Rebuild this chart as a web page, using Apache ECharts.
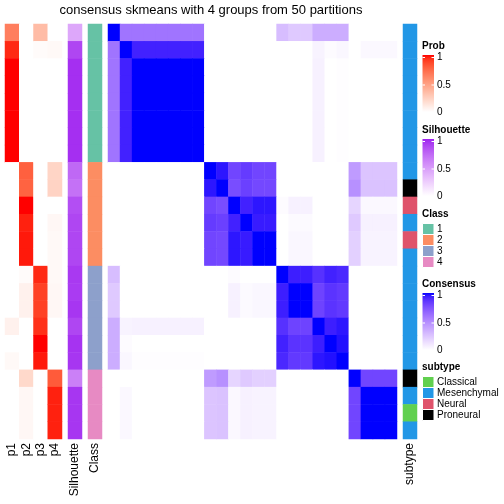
<!DOCTYPE html>
<html><head><meta charset="utf-8">
<script src="https://cdn.jsdelivr.net/npm/echarts@6/dist/echarts.min.js"></script>
<style>html,body{margin:0;padding:0;background:#fff}#c{width:504px;height:504px}</style>
</head><body><div id="c"></div>
<script>
const FONT = '"Liberation Sans", Arial, Helvetica, sans-serif';
const chartTitle = 'consensus skmeans with 4 groups from 50 partitions';

// ---- data ----
const probNames = ['p1', 'p2', 'p3', 'p4'];
const p1 = [0.65, 0.95, 1, 1, 1, 1, 1, 1, 0, 0, 0, 0, 0, 0, 0, 0, 0, 0.07, 0, 0.03, 0, 0, 0, 0];
const p2 = [0, 0, 0, 0, 0, 0, 0, 0, 0.78, 0.77, 1, 0.96, 0.97, 0.97, 0.02, 0.07, 0.07, 0, 0, 0, 0.2, 0.04, 0.04, 0.04];
const p3 = [0.35, 0.02, 0, 0, 0, 0, 0, 0, 0, 0, 0, 0, 0, 0, 0.95, 0.89, 0.89, 0.93, 1, 0.97, 0, 0, 0, 0];
const p4 = [0, 0.03, 0, 0, 0, 0, 0, 0, 0.22, 0.23, 0, 0.04, 0.03, 0.03, 0.03, 0.04, 0.04, 0, 0, 0, 0.8, 0.96, 0.96, 0.96];
const silhouette = [0.44, 0.88, 0.96, 0.96, 0.96, 0.96, 0.96, 0.96, 0.74, 0.7, 0.85, 0.88, 0.88, 0.88, 0.93, 0.92, 0.94, 0.88, 0.95, 0.94, 0.63, 0.94, 0.94, 0.94];
const classLevels = ['1', '2', '3', '4'];
const classes = [1, 1, 1, 1, 1, 1, 1, 1, 2, 2, 2, 2, 2, 2, 3, 3, 3, 3, 3, 3, 4, 4, 4, 4];
const subtypeLevels = ['Classical', 'Mesenchymal', 'Neural', 'Proneural'];
const subtype = ['Mesenchymal', 'Mesenchymal', 'Mesenchymal', 'Mesenchymal', 'Mesenchymal', 'Mesenchymal', 'Mesenchymal', 'Mesenchymal',
  'Mesenchymal', 'Proneural', 'Neural', 'Mesenchymal', 'Neural', 'Mesenchymal',
  'Mesenchymal', 'Mesenchymal', 'Mesenchymal', 'Mesenchymal', 'Mesenchymal', 'Mesenchymal',
  'Proneural', 'Mesenchymal', 'Classical', 'Mesenchymal'];
const consensus = [
  [1, .6, .6, .6, .6, .6, .6, .6, 0, 0, 0, 0, 0, 0, .28, .23, .23, .35, .35, .35, 0, 0, 0, 0],
  [.6, 1, .93, .93, .93, .93, .93, .93, 0, 0, 0, 0, 0, 0, 0, 0, 0, .05, .015, .035, 0, .03, .03, .03],
  [.6, .93, 1, 1, 1, 1, 1, 1, 0, 0, 0, 0, 0, 0, 0, 0, 0, .06, 0, .01, 0, 0, 0, 0],
  [.6, .93, 1, 1, 1, 1, 1, 1, 0, 0, 0, 0, 0, 0, 0, 0, 0, .06, 0, .01, 0, 0, 0, 0],
  [.6, .93, 1, 1, 1, 1, 1, 1, 0, 0, 0, 0, 0, 0, 0, 0, 0, .06, 0, .01, 0, 0, 0, 0],
  [.6, .93, 1, 1, 1, 1, 1, 1, 0, 0, 0, 0, 0, 0, 0, 0, 0, .06, 0, .01, 0, 0, 0, 0],
  [.6, .93, 1, 1, 1, 1, 1, 1, 0, 0, 0, 0, 0, 0, 0, 0, 0, .06, 0, .01, 0, 0, 0, 0],
  [.6, .93, 1, 1, 1, 1, 1, 1, 0, 0, 0, 0, 0, 0, 0, 0, 0, .06, 0, .01, 0, 0, 0, 0],
  [0, 0, 0, 0, 0, 0, 0, 0, 1, .96, .8, .84, .8, .8, 0, 0, 0, 0, 0, 0, .43, .25, .25, .25],
  [0, 0, 0, 0, 0, 0, 0, 0, .96, 1, .77, .82, .79, .79, 0, 0, 0, 0, 0, 0, .48, .26, .26, .26],
  [0, 0, 0, 0, 0, 0, 0, 0, .8, .77, 1, .93, .96, .96, .015, .06, .06, 0, 0, 0, .18, .03, .03, .03],
  [0, 0, 0, 0, 0, 0, 0, 0, .84, .82, .93, 1, .95, .95, 0, .02, .02, 0, 0, 0, .23, .06, .06, .06],
  [0, 0, 0, 0, 0, 0, 0, 0, .8, .79, .96, .95, 1, 1, 0, .035, .035, 0, 0, 0, .2, .05, .05, .05],
  [0, 0, 0, 0, 0, 0, 0, 0, .8, .79, .96, .95, 1, 1, 0, .035, .035, 0, 0, 0, .2, .05, .05, .05],
  [.28, 0, 0, 0, 0, 0, 0, 0, 0, 0, .015, 0, 0, 0, 1, .94, .94, .88, .93, .91, 0, 0, 0, 0],
  [.23, 0, 0, 0, 0, 0, 0, 0, 0, 0, .06, .02, .035, .035, .94, 1, 1, .81, .87, .85, 0, 0, 0, 0],
  [.23, 0, 0, 0, 0, 0, 0, 0, 0, 0, .06, .02, .035, .035, .94, 1, 1, .81, .87, .85, 0, 0, 0, 0],
  [.35, .05, .06, .06, .06, .06, .06, .06, 0, 0, 0, 0, 0, 0, .88, .81, .81, 1, .94, .96, 0, 0, 0, 0],
  [.35, .015, 0, 0, 0, 0, 0, 0, 0, 0, 0, 0, 0, 0, .93, .87, .87, .94, 1, .97, 0, 0, 0, 0],
  [.35, .035, .01, .01, .01, .01, .01, .01, 0, 0, 0, 0, 0, 0, .91, .85, .85, .96, .97, 1, 0, 0, 0, 0],
  [0, 0, 0, 0, 0, 0, 0, 0, .43, .48, .18, .23, .2, .2, 0, 0, 0, 0, 0, 0, 1, .8, .8, .8],
  [0, .03, 0, 0, 0, 0, 0, 0, .25, .26, .03, .06, .05, .05, 0, 0, 0, 0, 0, 0, .8, 1, 1, 1],
  [0, .03, 0, 0, 0, 0, 0, 0, .25, .26, .03, .06, .05, .05, 0, 0, 0, 0, 0, 0, .8, 1, 1, 1],
  [0, .03, 0, 0, 0, 0, 0, 0, .25, .26, .03, .06, .05, .05, 0, 0, 0, 0, 0, 0, .8, 1, 1, 1]
];
const legendTicks = ['1', '0.5', '0'];

// ---- colours (LAB interpolation like circlize::colorRamp2) ----
const classColors = ['#66C2A5', '#FC8D62', '#8DA0CB', '#E78AC3'];
const subtypeColors = ['#61D04F', '#2297E6', '#DF536B', '#000000'];
function hex2rgb(h) { h = h.replace('#', ''); return [0, 2, 4].map(i => parseInt(h.substr(i, 2), 16)); }
function lin(c) { c /= 255; return c <= 0.04045 ? c / 12.92 : Math.pow((c + 0.055) / 1.055, 2.4); }
function delin(c) { c = Math.max(0, Math.min(1, c)); c = c <= 0.0031308 ? 12.92 * c : 1.055 * Math.pow(c, 1 / 2.4) - 0.055; return Math.max(0, Math.min(255, Math.round(c * 255))); }
const Xn = 0.95047, Yn = 1, Zn = 1.08883;
function fl(t) { return t > 0.008856 ? Math.cbrt(t) : 7.787 * t + 16 / 116; }
function finv(t) { return t > 0.206893 ? t * t * t : (t - 16 / 116) / 7.787; }
function rgb2lab(rgb) {
  const [r, g, b] = rgb.map(lin);
  const X = (0.4124 * r + 0.3576 * g + 0.1805 * b) / Xn, Y = (0.2126 * r + 0.7152 * g + 0.0722 * b) / Yn, Z = (0.0193 * r + 0.1192 * g + 0.9505 * b) / Zn;
  const fx = fl(X), fy = fl(Y), fz = fl(Z);
  return [116 * fy - 16, 500 * (fx - fy), 200 * (fy - fz)];
}
function lab2rgb(lab) {
  const fy = (lab[0] + 16) / 116, fx = fy + lab[1] / 500, fz = fy - lab[2] / 200;
  const X = finv(fx) * Xn, Y = finv(fy) * Yn, Z = finv(fz) * Zn;
  const r = 3.2406 * X - 1.5372 * Y - 0.4986 * Z, g = -0.9689 * X + 1.8758 * Y + 0.0415 * Z, b = 0.0557 * X - 0.2040 * Y + 1.0570 * Z;
  return [r, g, b].map(delin);
}
function ramp(c0, c1, n) {
  const a = rgb2lab(hex2rgb(c0)), b = rgb2lab(hex2rgb(c1)), out = [];
  for (let i = 0; i < n; i++) {
    const t = i / (n - 1);
    out.push('rgb(' + lab2rgb(a.map((v, k) => v + (b[k] - v) * t)).join(',') + ')');
  }
  return out;
}
const probRamp = ramp('#FFFFFF', '#FF0000', 21);
const silRamp = ramp('#FFFFFF', '#A020F0', 21);
const consRamp = ramp('#FFFFFF', '#0000FF', 21);

// ---- build series data ----
const rows = consensus.map((_, i) => i);
const probCols = [p1, p2, p3, p4];
const probData = [];
probCols.forEach((col, j) => col.forEach((v, i) => probData.push([j, i, v])));
const silData = silhouette.map((v, i) => [0, i, v]);
const classData = classes.map((v, i) => [0, i, v]);
const consData = [];
consensus.forEach((row, i) => row.forEach((v, j) => consData.push([j, i, v])));
const subtypeData = subtype.map((s, i) => [0, i, subtypeLevels.indexOf(s)]);

const TOP = 24, H = 415;
const grids = [
  { left: 5, top: TOP, width: 57, height: H },
  { left: 68, top: TOP, width: 14, height: H },
  { left: 88, top: TOP, width: 14, height: H },
  { left: 108, top: TOP, width: 289, height: H },
  { left: 403, top: TOP, width: 14, height: H }
];
const xCats = [probNames, ['Silhouette'], ['Class'], rows.map(String), ['subtype']];
const labelStyle = { show: true, interval: 0, hideOverlap: false, rotate: 90, margin: 4, fontSize: 12, color: '#000', fontFamily: FONT };
const xAxes = xCats.map((cats, g) => ({
  type: 'category', gridIndex: g, data: cats, position: 'bottom',
  axisLine: { show: false }, axisTick: { show: false }, splitLine: { show: false },
  axisLabel: g === 3 ? { show: false } : labelStyle
}));
const yAxes = grids.map((_, g) => ({
  type: 'category', gridIndex: g, data: rows.map(String), inverse: true, show: false
}));
function hm(g, data) {
  return { type: 'heatmap', xAxisIndex: g, yAxisIndex: g, data: data, progressive: 0, animation: false,
    itemStyle: { borderWidth: 0 }, emphasis: { disabled: true } };
}

// ---- legends (drawn as graphics) ----
const LX = 422.5;
const gfx = [];
function txt(t, x, y, bold, size, align) {
  gfx.push({ type: 'text', silent: true, style: { text: t, x: x, y: y, fill: '#000',
    font: (bold ? 'bold ' : '') + size + 'px ' + FONT,
    textAlign: align || 'left', textVerticalAlign: 'middle', align: align || 'left', verticalAlign: 'middle' } });
}
function contLegend(name, Y, colors) {
  txt(name, 422, Y, true, 10);
  const top = Y + 9, bot = Y + 66;
  const stops = colors.slice().reverse().map((c, i, a) => ({ offset: i / (a.length - 1), color: c }));
  gfx.push({ type: 'rect', silent: true, shape: { x: LX, y: top, width: 11.5, height: bot - top },
    style: { fill: { type: 'linear', x: 0, y: 0, x2: 0, y2: 1, colorStops: stops } } });
  const ys = [Y + 11.5, Y + 39, Y + 66.5];
  legendTicks.forEach((t, i) => {
    txt(t, 437, ys[i], false, 10);
    if (i < 2) {
      gfx.push({ type: 'line', silent: true, shape: { x1: LX, y1: ys[i], x2: LX + 2.5, y2: ys[i] }, style: { stroke: '#fff', lineWidth: 1 } });
      gfx.push({ type: 'line', silent: true, shape: { x1: LX + 9, y1: ys[i], x2: LX + 11.5, y2: ys[i] }, style: { stroke: '#fff', lineWidth: 1 } });
    }
  });
}
function discLegend(name, Y, labels, colors) {
  txt(name, 422, Y, true, 10);
  labels.forEach((l, i) => {
    const y0 = Y + 9.5 + 11 * i;
    gfx.push({ type: 'rect', silent: true, shape: { x: LX, y: y0, width: 11.5, height: 11 },
      style: { fill: colors[i], stroke: '#ffffff', lineWidth: 1 } });
    txt(l, 437, y0 + 5.5, false, 10);
  });
}
contLegend('Prob', 46, probRamp);
contLegend('Silhouette', 130, silRamp);
discLegend('Class', 214, classLevels, classColors);
contLegend('Consensus', 284, consRamp);
discLegend('subtype', 367, subtypeLevels, subtypeColors);
txt(chartTitle, 211, 10, false, 13, 'center');

const chart = echarts.init(document.getElementById('c'), null, { renderer: 'canvas' });
chart.setOption({
  animation: false,
  backgroundColor: '#fff',
  grid: grids,
  xAxis: xAxes,
  yAxis: yAxes,
  visualMap: [
    { type: 'continuous', show: false, seriesIndex: 0, min: 0, max: 1, dimension: 2, inRange: { color: probRamp } },
    { type: 'continuous', show: false, seriesIndex: 1, min: 0, max: 1, dimension: 2, inRange: { color: silRamp } },
    { type: 'piecewise', show: false, seriesIndex: 2, dimension: 2, pieces: classColors.map((c, i) => ({ value: i + 1, color: c })) },
    { type: 'continuous', show: false, seriesIndex: 3, min: 0, max: 1, dimension: 2, inRange: { color: consRamp } },
    { type: 'piecewise', show: false, seriesIndex: 4, dimension: 2, pieces: subtypeColors.map((c, i) => ({ value: i, color: c })) }
  ],
  series: [hm(0, probData), hm(1, silData), hm(2, classData), hm(3, consData), hm(4, subtypeData)],
  graphic: { elements: gfx }
});
</script>
</body></html>
